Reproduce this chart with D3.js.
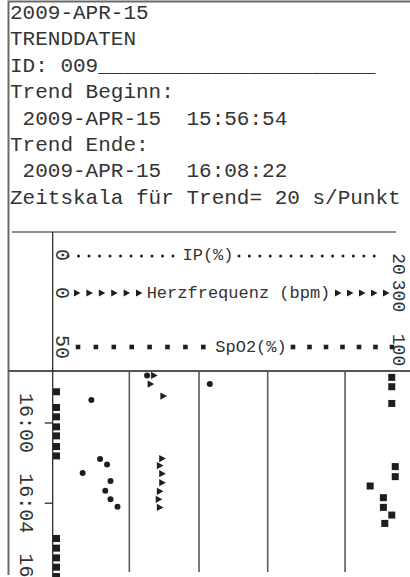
<!DOCTYPE html>
<html>
<head>
<meta charset="utf-8">
<script src="https://cdn.jsdelivr.net/npm/d3@7"></script>
<style>
  html, body { margin: 0; padding: 0; background: #fff; }
  svg { display: block; }
  text { font-family: "Courier New", "Liberation Mono", monospace; fill: #333; }
</style>
</head>
<body>
<svg id="chart" width="410" height="577"></svg>
<script>
// ---- Report header ----
const headerLines = [
  "2009-APR-15",
  "TRENDDATEN",
  "ID: 009______________________",
  "Trend Beginn:",
  " 2009-APR-15  15:56:54",
  "Trend Ende:",
  " 2009-APR-15  16:08:22",
  "Zeitskala für Trend= 20 s/Punkt"
];

// ---- Trend parameters (legend rows) ----
const paramNames = ["IP(%)", "Herzfrequenz (bpm)", "SpO2(%)"];
const paramMin = [0, 0, 50];
const paramMax = [20, 300, 100];
const paramMinLabels = ["0", "0", "50"];
const paramMaxLabels = ["20", "300", "100"];

// ---- Time axis ----
const trendDate = "2009-04-15";
const timeTicks = ["16:00", "16:04", "16:08"];

// ---- IP(%) ----
const ipTimes = ["15:57:39", "15:58:05", "15:58:53", "16:01:49", "16:02:06",
                 "16:02:31", "16:02:55", "16:03:24", "16:03:50", "16:04:12"];
const ipValues = [5.2, 8.8, 2.0, 2.5, 2.9, 1.5, 3.1, 2.8, 3.1, 3.5];

// ---- Herzfrequenz (bpm) ----
const hrTimes = ["15:57:39", "15:58:05", "15:58:41", "16:01:48", "16:02:09",
                 "16:02:33", "16:03:00", "16:03:26", "16:03:50", "16:04:14"];
const hrValues = [84, 81, 92, 91, 89, 91, 91, 89, 88, 89];

// ---- SpO2(%) ----
const spo2Times = ["15:57:45", "15:58:13", "15:58:28", "15:59:03", "15:59:15",
                   "15:59:43", "16:00:13", "16:00:40", "16:01:12", "16:01:40",
                   "16:02:12", "16:02:42", "16:03:10", "16:03:45", "16:04:14",
                   "16:04:37", "16:05:02", "16:05:47", "16:06:16", "16:06:45",
                   "16:07:13", "16:07:41"];
const spo2Values = [98.1, 98.1, 50, 98.1, 50,
                    50, 50, 50, 50, 50,
                    98.6, 98.6, 95.0, 96.9, 96.9,
                    98.1, 97.1, 50, 50, 50,
                    50, 50];

// ---- Value grid (fraction of full scale) ----
const gridFractions = [0.209, 0.409, 0.606, 0.828];

// ---------------------------------------------------------------
const svg = d3.select("#chart");
const ink = "#1e1e1e";
const parseTime = d3.timeParse("%Y-%m-%d %H:%M:%S");
const toDate = t => parseTime(`${trendDate} ${t.length === 5 ? t + ":00" : t}`);

// Horizontal value scales share one span; each parameter has its own domain
const valueRange = [56.5, 405];
const xScales = paramMin.map((m, i) => d3.scaleLinear().domain([m, paramMax[i]]).range(valueRange));
const xFrac = d3.scaleLinear().domain([0, 1]).range(valueRange);

// Vertical time scale: time runs down the page
const yTime = d3.scaleTime()
  .domain([toDate("16:00"), toDate("16:04")])
  .range([422.5, 502.7]);

// ---- Frame ----
svg.append("path")
  .attr("d", "M410,1.5 H8.5 V575")
  .attr("fill", "none").attr("stroke", "#6a6a6a").attr("stroke-width", 2);

// ---- Header text ----
svg.append("g").selectAll("text")
  .data(headerLines)
  .join("text")
  .attr("x", 10)
  .attr("y", (d, i) => 19 + i * 26.4)
  .attr("font-size", 21)
  .attr("xml:space", "preserve")
  .style("white-space", "pre")
  .text(d => d);

// ---- Legend box lines ----
const axisX = 52.7;
const legendTop = 232, plotTop = 371, gridBottom = 572;
svg.append("line").attr("x1", 12).attr("x2", 396).attr("y1", legendTop).attr("y2", legendTop)
  .attr("stroke", ink).attr("stroke-width", 1.2);
svg.append("line").attr("x1", 8).attr("x2", 410).attr("y1", plotTop).attr("y2", plotTop)
  .attr("stroke", "#555").attr("stroke-width", 2);

// ---- Legend rows ----
const rowY = [255, 293, 347];
const legendFont = 17;
const legendCenter = [208, 238.5, 251];
// marker runs on either side of each label: [start, end, step]
const legendRuns = [
  [[68, 178, 10.5], [239, 384, 10.4]],
  [[77, 139, 12.4], [338, 386, 12]],
  [[78, 204, 17.9], [293, 392, 16.5]]
];
const maxLabelY = [264, 296, 350];

const legend = svg.append("g");
paramNames.forEach((name, i) => {
  const g = legend.append("g");
  g.append("text")
    .attr("x", legendCenter[i]).attr("y", rowY[i] + 5)
    .attr("text-anchor", "middle")
    .attr("font-size", legendFont)
    .attr("xml:space", "preserve").style("white-space", "pre")
    .text(name);
  const pts = legendRuns[i].flatMap(([a, b, s]) => d3.range(a, b + 0.1, s));
  if (i === 0) {
    g.selectAll("circle").data(pts).join("circle")
      .attr("cx", d => d).attr("cy", rowY[i] + 1).attr("r", 1.5).attr("fill", ink);
  } else if (i === 1) {
    g.selectAll("path").data(pts).join("path")
      .attr("d", "M-3,-3.5 L3.5,0 L-3,3.5 Z")
      .attr("transform", d => `translate(${d},${rowY[i]})`).attr("fill", ink);
  } else {
    g.selectAll("rect").data(pts).join("rect")
      .attr("x", d => d - 2.3).attr("y", rowY[i] - 2.3).attr("width", 4.6).attr("height", 4.6).attr("fill", ink);
  }
  // rotated scale ends
  g.append("text").attr("font-size", 20).attr("text-anchor", "middle")
    .attr("transform", `translate(55.5,${rowY[i]}) rotate(90)`).text(paramMinLabels[i]);
  g.append("text").attr("font-size", 18).attr("text-anchor", "middle")
    .attr("transform", `translate(393,${maxLabelY[i]}) rotate(90)`).text(paramMaxLabels[i]);
});

// ---- Value grid ----
svg.append("g").selectAll("line")
  .data(gridFractions)
  .join("line")
  .attr("x1", d => xFrac(d)).attr("x2", d => xFrac(d))
  .attr("y1", plotTop).attr("y2", gridBottom)
  .attr("stroke", "#5a5a5a").attr("stroke-width", 1.6);

// ---- Time axis (vertical, labels rotated) ----
svg.append("line").attr("x1", axisX).attr("x2", axisX).attr("y1", legendTop).attr("y2", 577)
  .attr("stroke", ink).attr("stroke-width", 1.2);

const timeAxis = d3.axisLeft(yTime)
  .tickValues(timeTicks.map(toDate))
  .tickSize(8)
  .tickFormat(d3.timeFormat("%H:%M"));

const axisG = svg.append("g")
  .attr("transform", `translate(${axisX},0)`)
  .call(timeAxis);
axisG.select(".domain").remove();
axisG.selectAll(".tick line").attr("stroke", ink).attr("stroke-width", 1.2);
axisG.selectAll(".tick text")
  .attr("x", null).attr("dy", null)
  .attr("font-family", null)
  .attr("font-size", 20)
  .attr("fill", "#333")
  .attr("text-anchor", "middle")
  .attr("transform", "translate(-32.5,0) rotate(90)");

// ---- Data marks ----
const plot = svg.append("g");

const spo2 = spo2Times.map((t, i) => ({ t: toDate(t), v: spo2Values[i] }));
plot.append("g").selectAll("rect")
  .data(spo2)
  .join("rect")
  .attr("x", d => xScales[2](d.v) - 3.5)
  .attr("y", d => yTime(d.t) - 3.5)
  .attr("width", 7).attr("height", 7)
  .attr("fill", ink);

const hr = hrTimes.map((t, i) => ({ t: toDate(t), v: hrValues[i] }));
plot.append("g").selectAll("path")
  .data(hr)
  .join("path")
  .attr("d", "M-3,-3.6 L3.6,0 L-3,3.6 Z")
  .attr("transform", d => `translate(${xScales[1](d.v)},${yTime(d.t)})`)
  .attr("fill", ink);

const ip = ipTimes.map((t, i) => ({ t: toDate(t), v: ipValues[i] }));
plot.append("g").selectAll("circle")
  .data(ip)
  .join("circle")
  .attr("cx", d => xScales[0](d.v))
  .attr("cy", d => yTime(d.t))
  .attr("r", 3)
  .attr("fill", ink);
</script>
</body>
</html>
